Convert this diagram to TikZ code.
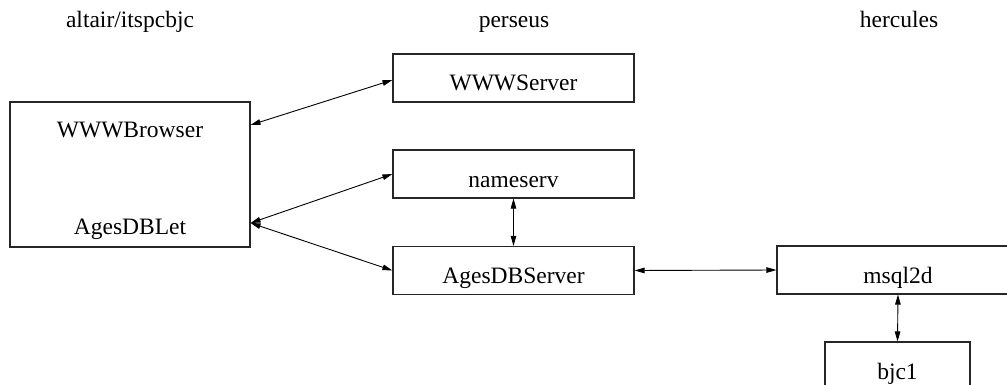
\documentclass[tikz,border=0pt]{standalone}
\usepackage{fontspec}
\setmainfont{Liberation Serif}
\usetikzlibrary{arrows.meta}
\begin{document}
\begin{tikzpicture}[x=1pt,y=-1pt,
  font=\fontsize{23.5}{28}\selectfont,
  box/.style={draw=black!85,line width=1.1pt,rectangle,inner sep=0pt,
    text height=26pt,text depth=0pt,minimum height=48pt},
  lbl/.style={anchor=base,inner sep=0pt},
  link/.style={line width=0.9pt,{Triangle[length=10pt,width=5.5pt]}-{Triangle[length=10pt,width=5.5pt]}}]
\useasboundingbox (0,0) rectangle (1007,385);
\clip (0,0) rectangle (1007,385);

% host headings
\node[lbl] (h1) at (130,28) {altair/itspcbjc};
\node[lbl] (h2) at (514,28) {perseus};
\node[lbl] (h3) at (899,28) {hercules};

% client host
\node[draw=black!85,line width=1.1pt,rectangle,inner sep=0pt,
      minimum width=240pt,minimum height=145pt] (client) at (130,174.5) {};
\node[lbl] (browser) at (130,138) {WWWBrowser};
\node[lbl] (applet) at (130,234) {AgesDBLet};
\path (client.east) ++(0,-49.5) coordinate (cw);
\path (client.east) ++(0,48.5) coordinate (ca);

% server host
\node[box,minimum width=241pt] (www) at (513.5,78) {WWWServer};
\node[box,minimum width=241pt] (names) at (513.5,174) {nameserv};
\node[box,minimum width=241pt] (ages) at (513.5,270.5) {AgesDBServer};

% database host
\node[box,minimum width=242pt] (msql) at (898,270) {msql2d};
\node[box,minimum width=145pt] (bjc) at (897.5,366) {bjc1};

% connections
\draw[link] (cw) -- ([yshift=-2pt]www.west);
\draw[link] (ca) -- (names.west);
\draw[link] (ca) -- (ages.west);
\draw[link] (names.south) -- (ages.north);
\draw[link] (ages.east) -- (msql.west);
\draw[link] (msql.south) -- (bjc.north);
\end{tikzpicture}
\end{document}
